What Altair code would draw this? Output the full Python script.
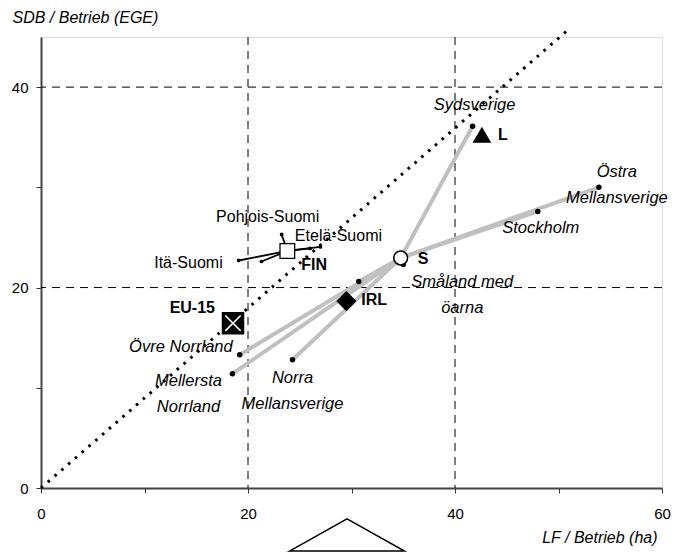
import altair as alt
import pandas as pd

# ---- data ----
se_regions = ["Sydsverige", "Östra Mellansverige", "Stockholm", "Småland med öarna",
              "Västsverige", "Övre Norrland", "Mellersta Norrland", "Norra Mellansverige"]
se_x = [41.7, 53.9, 48.0, 35.0, 30.7, 19.2, 18.5, 24.3]
se_y = [36.1, 30.0, 27.6, 22.3, 20.6, 13.3, 11.4, 12.8]

fi_regions = ["Pohjois-Suomi", "Etelä-Suomi", "Itä-Suomi", "Väli-Suomi", "Åland"]
fi_x = [23.25, 27.0, 19.1, 21.3, 26.0]
fi_y = [25.3, 24.05, 22.7, 22.6, 23.9]

countries = ["S", "L", "IRL", "FIN", "EU-15"]
c_x = [34.75, 42.6, 29.5, 23.8, 18.55]
c_y = [22.95, 35.2, 18.65, 23.65, 16.45]

diag_x = [0, 50.8]
diag_y = [0, 45.6]

grid_vals = [20, 40]
x_ticks = [0, 10, 20, 30, 40, 50, 60]
y_ticks = [0, 10, 20, 30, 40]

# ---- tables ----
se = pd.DataFrame({"name": se_regions, "x": se_x, "y": se_y})
fi = pd.DataFrame({"name": fi_regions, "x": fi_x, "y": fi_y})
cc = pd.DataFrame({"name": countries, "x": c_x, "y": c_y})
s_x, s_y = c_x[0], c_y[0]
fin_x, fin_y = c_x[3], c_y[3]
se_seg = pd.DataFrame({"x": [s_x] * len(se_x), "y": [s_y] * len(se_y), "x2": se_x, "y2": se_y})
fi_seg = pd.DataFrame({"x": [fin_x] * len(fi_x), "y": [fin_y] * len(fi_y), "x2": fi_x, "y2": fi_y})
diag = pd.DataFrame({"x": diag_x, "y": diag_y})
grid = pd.DataFrame({"v": grid_vals})

FONT = "Liberation Sans"
xs = alt.Scale(domain=[0, 60], nice=False)
ys = alt.Scale(domain=[0, 45], nice=False)

X = alt.X("x:Q", scale=xs, axis=alt.Axis(
    values=x_ticks, labelExpr="datum.value % 20 == 0 ? datum.label : ''",
    grid=False, tickSize=5, tickColor="#333", tickWidth=1, labelPadding=13, labelFlush=False,
    domainColor="#444", domainWidth=2, labelFont=FONT, labelFontSize=15, labelColor="black",
    title="LF / Betrieb (ha)", titleFont=FONT, titleFontSize=16, titleFontStyle="italic",
    titleFontWeight="normal", titleColor="black", titleAnchor="end", titleAlign="right",
    titleX=616, titleY=49, titleBaseline="middle"))
Y = alt.Y("y:Q", scale=ys, axis=alt.Axis(
    values=y_ticks, labelExpr="datum.value % 20 == 0 ? datum.label : ''",
    grid=False, tickSize=5, tickColor="#333", tickWidth=1, labelPadding=8, labelFlush=False,
    domainColor="#444", domainWidth=2, labelFont=FONT, labelFontSize=15, labelColor="black",
    title="SDB / Betrieb (EGE)", titleFont=FONT, titleFontSize=16, titleFontStyle="italic",
    titleFontWeight="normal", titleColor="black", titleAngle=0, titleAlign="left",
    titleBaseline="middle", titleX=-29, titleY=-20))

base_axes = alt.Chart(diag).mark_point(opacity=0).encode(x=X, y=Y)

vgrid = alt.Chart(grid).mark_rule(color="black", strokeDash=[8, 6], strokeWidth=1).encode(
    x=alt.X("v:Q", scale=xs))
hgrid = alt.Chart(grid).mark_rule(color="black", strokeDash=[8, 6], strokeWidth=1).encode(
    y=alt.Y("v:Q", scale=ys))

diag_line = alt.Chart(diag).mark_line(color="black", strokeDash=[2.6, 6.4], strokeWidth=3,
                                      clip=False).encode(
    x=alt.X("x:Q", scale=xs), y=alt.Y("y:Q", scale=ys))

se_lines = alt.Chart(se_seg).mark_rule(color="#c0c0c0", strokeWidth=4, strokeCap="round").encode(
    x=alt.X("x:Q", scale=xs), y=alt.Y("y:Q", scale=ys), x2="x2:Q", y2="y2:Q")
fi_lines = alt.Chart(fi_seg).mark_rule(color="black", strokeWidth=1.8).encode(
    x=alt.X("x:Q", scale=xs), y=alt.Y("y:Q", scale=ys), x2="x2:Q", y2="y2:Q")

se_dots = alt.Chart(se).mark_circle(color="black", size=30, opacity=1).encode(
    x=alt.X("x:Q", scale=xs), y=alt.Y("y:Q", scale=ys))
fi_dots = alt.Chart(fi).mark_circle(color="black", size=14, opacity=1).encode(
    x=alt.X("x:Q", scale=xs), y=alt.Y("y:Q", scale=ys))

def country(name, **kw):
    return alt.Chart(cc).transform_filter(alt.datum.name == name).mark_point(
        opacity=1, **kw).encode(x=alt.X("x:Q", scale=xs), y=alt.Y("y:Q", scale=ys))

m_s = country("S", shape="circle", size=190, fill="white", stroke="black", strokeWidth=1.5, filled=True)
m_l = country("L", shape="triangle-up", size=230, fill="black", stroke="black", filled=True)
m_irl = country("IRL", shape="diamond", size=300, fill="black", stroke="black", filled=True)
m_fin = country("FIN", shape="square", size=215, fill="white", stroke="black", strokeWidth=1.3, filled=True)
m_eu = country("EU-15", shape="square", size=420, fill="black", stroke="black", filled=True)
m_eu_x = country("EU-15", shape="M-0.75,-0.75L0.75,0.75M-0.75,0.75L0.75,-0.75", size=420,
                 stroke="white", strokeWidth=1.6, filled=False)

# label styling: (data, name, text, dx, dy (first line), align, style, weight, size)
label_specs = [
    (se, "Sydsverige", "Sydsverige", 2, -21, "center", "italic", "normal", 16.5),
    (se, "Östra Mellansverige", ["Östra", "Mellansverige"], 18, -15, "center", "italic", "normal", 16.5),
    (se, "Stockholm", "Stockholm", 3, 17, "center", "italic", "normal", 16.5),
    (se, "Småland med öarna", ["Småland med", "öarna"], 59, 17, "center", "italic", "normal", 16.5),
    (se, "Övre Norrland", "Övre Norrland", -7, -8, "right", "italic", "normal", 16.5),
    (se, "Mellersta Norrland", ["Mellersta", "Norrland"], -44, 7, "center", "italic", "normal", 16.5),
    (se, "Norra Mellansverige", ["Norra", "Mellansverige"], 0, 18, "center", "italic", "normal", 16.5),
    (fi, "Pohjois-Suomi", "Pohjois-Suomi", -14, -17, "center", "normal", "normal", 16),
    (fi, "Etelä-Suomi", "Etelä-Suomi", 18, -11, "center", "normal", "normal", 16),
    (fi, "Itä-Suomi", "Itä-Suomi", -16, 3, "right", "normal", "normal", 16),
    (cc, "L", "L", 16, 0, "left", "normal", "bold", 16),
    (cc, "S", "S", 17, 1, "left", "normal", "bold", 16),
    (cc, "IRL", "IRL", 15, -1, "left", "normal", "bold", 16),
    (cc, "FIN", "FIN", 14, 14, "left", "normal", "bold", 16),
    (cc, "EU-15", "EU-15", -18, -15, "right", "normal", "bold", 16),
]

labels = []
for df, name, txt, dx, dy, align, style, weight, fs in label_specs:
    labels.append(
        alt.Chart(df).transform_filter(alt.datum.name == name).mark_text(
            text=txt, dx=dx, dy=dy, align=align, baseline="middle", font=FONT, fontSize=fs,
            fontStyle=style, fontWeight=weight, color="black", lineHeight=26
        ).encode(x=alt.X("x:Q", scale=xs), y=alt.Y("y:Q", scale=ys))
    )

# decorative triangle below the chart
tri = alt.Chart(diag).transform_filter(alt.datum.x == 0).mark_point(
    shape="M-1,0.28L0,-0.28L1,0.28Z", size=13225, filled=False, stroke="black",
    strokeWidth=1.5, opacity=1, clip=False
).encode(x=alt.value(306), y=alt.value(498))

chart = alt.layer(
    base_axes, vgrid, hgrid, diag_line, se_lines, fi_lines, se_dots, fi_dots,
    m_s, m_l, m_irl, m_fin, m_eu, m_eu_x, *labels, tri
).properties(
    width=621, height=451,
    autosize=alt.AutoSizeParams(type="none"),
    padding={"left": 33, "top": 29, "right": 20, "bottom": 72},
).configure_view(stroke="#999", strokeWidth=2).configure(background="white")

chart.save("out.html", embed_options={"renderer": "svg", "actions": False})
